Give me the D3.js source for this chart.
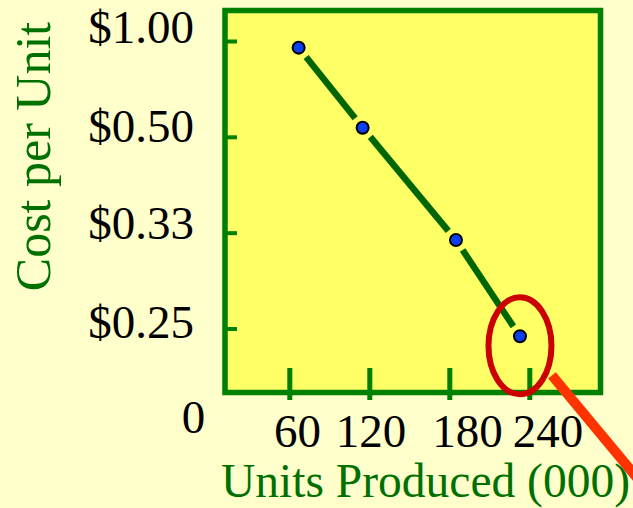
<!DOCTYPE html>
<html>
<head>
<meta charset="utf-8">
<script src="https://cdn.jsdelivr.net/npm/d3@7"></script>
<style>
  html, body { margin: 0; padding: 0; background: #FFFFCC; }
  svg { display: block; }
  text { font-family: "Liberation Serif", "Times New Roman", serif; }
</style>
</head>
<body>
<script>
// Units produced (thousands) and the resulting cost per unit
const unitsProduced = [67, 115, 185, 233];
const costPerUnit   = [0.935, 0.525, 0.325, 0.245];

// Axis ticks and their labels
const xTickValues = [60, 120, 180, 240];
const xTickLabels = ["60", "120", "180", "240"];
const yTickValues = [1, 1 / 2, 1 / 3, 1 / 4];
const yTickLabels = ["$1.00", "$0.50", "$0.33", "$0.25"];

const W = 633, H = 508;
const box = { left: 225, top: 10.5, right: 600.5, bottom: 392.5 };

const svg = d3.select("body").append("svg")
  .attr("width", W).attr("height", H);

svg.append("rect").attr("width", W).attr("height", H).attr("fill", "#FFFFCC");

// Scales: cost axis is reciprocal (equal steps in units per dollar)
const x = d3.scaleLinear().domain([0, 300]).range([209.3, 609.3]);
const y = d3.scalePow().exponent(-1).domain([1, 0.25]).range([41, 328.5]);
// where each tick label sits along its axis
const yLabelPos = d3.scaleLinear().domain(yTickValues).range([43.3, 141.7, 239.3, 338.3]);
const xLabelPos = d3.scaleLinear().domain(xTickValues).range([297.5, 371, 467.5, 548]);

// Plot area
svg.append("rect")
  .attr("x", box.left).attr("y", box.top)
  .attr("width", box.right - box.left).attr("height", box.bottom - box.top)
  .attr("fill", "#FFFF66")
  .attr("stroke", "#008000").attr("stroke-width", 5.5);

// Inside ticks
const xAxis = svg.append("g")
  .attr("transform", `translate(0,400)`)
  .call(d3.axisBottom(x).tickValues(xTickValues).tickSize(-32).tickFormat(""));
xAxis.select(".domain").remove();
xAxis.selectAll(".tick line").attr("stroke", "#008000").attr("stroke-width", 5);

const yAxis = svg.append("g")
  .attr("transform", `translate(${box.left},0)`)
  .call(d3.axisLeft(y).tickValues(yTickValues).tickSize(-12).tickFormat(""));
yAxis.select(".domain").remove();
yAxis.selectAll(".tick line").attr("stroke", "#008000").attr("stroke-width", 4);

// Tick labels
svg.append("g").selectAll("text").data(yTickValues).join("text")
  .attr("x", 194).attr("y", d => yLabelPos(d))
  .attr("text-anchor", "end").attr("font-size", 47).attr("fill", "#000")
  .text((d, i) => yTickLabels[i]);

svg.append("g").selectAll("text").data(xTickValues).join("text")
  .attr("x", d => xLabelPos(d)).attr("y", 447)
  .attr("text-anchor", "middle").attr("font-size", 47).attr("fill", "#000")
  .text((d, i) => xTickLabels[i]);

svg.append("text")
  .attr("x", 193.5).attr("y", 433)
  .attr("text-anchor", "middle").attr("font-size", 47).attr("fill", "#000")
  .text("0");

// Axis titles
svg.append("text")
  .attr("transform", "translate(50,156.5) rotate(-90)")
  .attr("text-anchor", "middle").attr("font-size", 50).attr("fill", "#007000")
  .text("Cost per Unit");

svg.append("text")
  .attr("x", 425.5).attr("y", 497)
  .attr("text-anchor", "middle").attr("font-size", 47.5).attr("fill", "#007000")
  .text("Units Produced (000)");

// Cost curve: segments between points, trimmed short of each marker
const pts = unitsProduced.map((u, i) => [x(u), y(costPerUnit[i])]);
const gap = 12;
const segs = d3.pairs(pts).map(([a, b]) => {
  const dx = b[0] - a[0], dy = b[1] - a[1];
  const len = Math.hypot(dx, dy);
  const ux = dx / len, uy = dy / len;
  return [[a[0] + ux * gap, a[1] + uy * gap], [b[0] - ux * gap, b[1] - uy * gap]];
});
svg.append("g").selectAll("line").data(segs).join("line")
  .attr("x1", d => d[0][0]).attr("y1", d => d[0][1])
  .attr("x2", d => d[1][0]).attr("y2", d => d[1][1])
  .attr("stroke", "#006600").attr("stroke-width", 6.5);

// Highlight around the last point, with a pointer running off to the corner
const last = pts[pts.length - 1];
svg.append("ellipse")
  .attr("cx", last[0]).attr("cy", last[1] + 9.5)
  .attr("rx", 31.5).attr("ry", 48.5)
  .attr("fill", "none").attr("stroke", "#CC0000").attr("stroke-width", 6);

svg.append("line")
  .attr("x1", last[0] + 32).attr("y1", last[1] + 39)
  .attr("x2", last[0] + 130).attr("y2", last[1] + 157)
  .attr("stroke", "#FF3300").attr("stroke-width", 10);

// Markers
svg.append("g").selectAll("circle").data(pts).join("circle")
  .attr("cx", d => d[0]).attr("cy", d => d[1]).attr("r", 6)
  .attr("fill", "#0A40F0").attr("stroke", "#000").attr("stroke-width", 2);
</script>
</body>
</html>
